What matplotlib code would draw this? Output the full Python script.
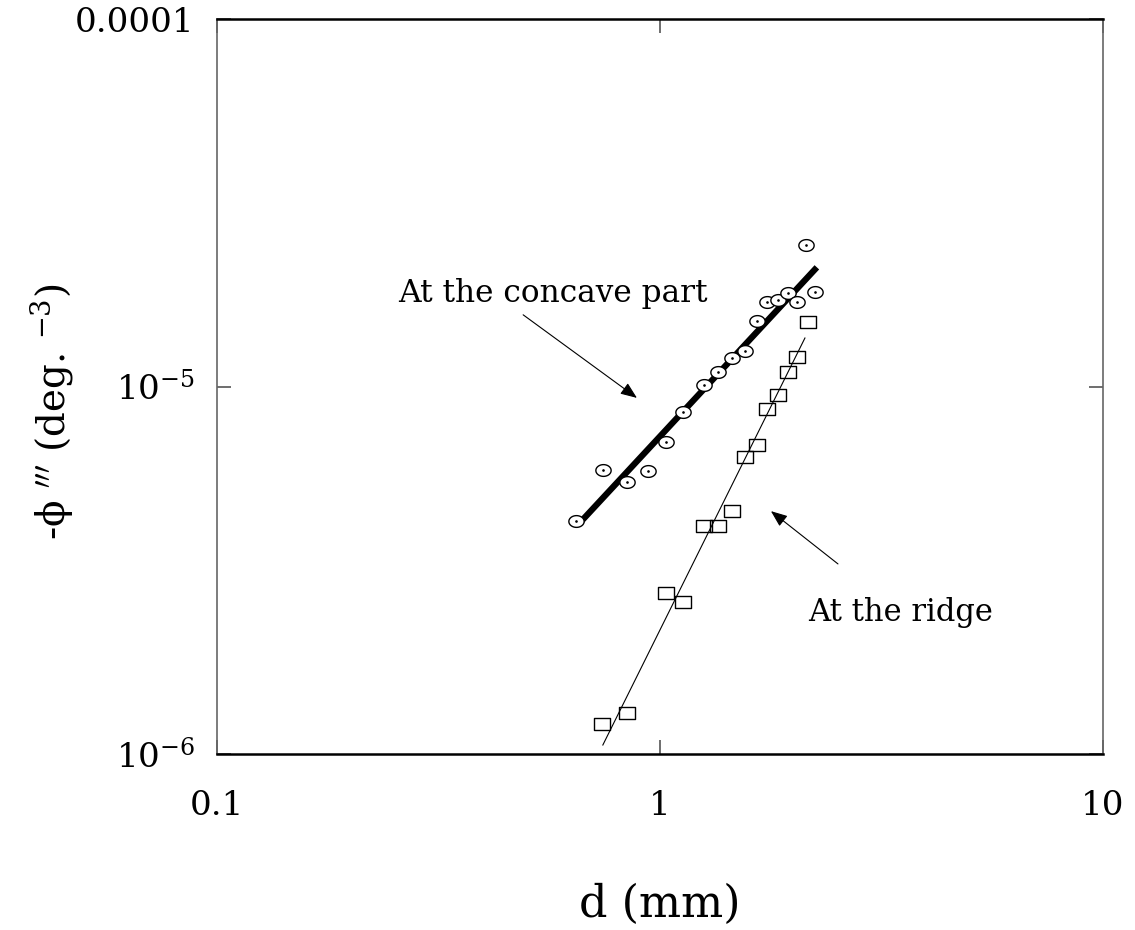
import matplotlib
matplotlib.use("Agg")
import matplotlib.pyplot as plt
import numpy as np
from matplotlib.path import Path

plt.rcParams['font.family'] = ['DejaVu Serif']
plt.rcParams['mathtext.fontset'] = 'dejavuserif'

# ---- data ----
d_concave = [0.646, 0.744, 0.842, 0.940, 1.03, 1.127, 1.256, 1.352, 1.454, 1.556,
             1.656, 1.744, 1.846, 1.945, 2.04, 2.136, 2.239]
phi_concave = [4.31e-6, 5.93e-6, 5.49e-6, 5.89e-6, 7.06e-6, 8.53e-6, 1.01e-5, 1.094e-5,
               1.196e-5, 1.25e-5, 1.51e-5, 1.70e-5, 1.72e-5, 1.80e-5, 1.70e-5, 2.43e-5, 1.81e-5]

d_ridge = [0.740, 0.842, 1.03, 1.127, 1.256, 1.352, 1.454, 1.556, 1.656, 1.744,
           1.846, 1.945, 2.04, 2.16]
phi_ridge = [1.21e-6, 1.29e-6, 2.74e-6, 2.59e-6, 4.17e-6, 4.17e-6, 4.58e-6, 6.43e-6,
             6.93e-6, 8.69e-6, 9.48e-6, 1.094e-5, 1.20e-5, 1.50e-5]

fit_concave_d = [0.656, 2.26]
fit_concave_phi = [4.23e-6, 2.11e-5]
fit_ridge_d = [0.743, 2.124]
fit_ridge_phi = [1.058e-6, 1.355e-5]

x_ticks = [0.1, 1, 10]
x_ticklabels = ['0.1', '1', '10']
y_ticks = [1e-6, 1e-5, 1e-4]
y_ticklabels = [r'10$^{-6}$', r'10$^{-5}$', '0.0001']

# ---- figure ----
fig = plt.figure(figsize=(11.35, 9.3), dpi=100)
ax = fig.add_axes([217/1135, 1-754/930, (1103-217)/1135, (754-19)/930])
ax.set_xscale('log')
ax.set_yscale('log')
ax.set_xlim(0.1, 10)
ax.set_ylim(1e-6, 1e-4)

# elliptical markers (chart is horizontally stretched)
t = np.linspace(0, 2*np.pi, 60)
ell = Path(np.column_stack([1.3*np.cos(t), np.sin(t)]), closed=True)
rect = Path([(-1.3, -1), (1.3, -1), (1.3, 1), (-1.3, 1), (-1.3, -1)], closed=True)

ax.plot(fit_concave_d, fit_concave_phi, color='black', lw=4.5, solid_capstyle='butt', zorder=2)
ax.plot(fit_ridge_d, fit_ridge_phi, color='black', lw=0.8, zorder=2)

ax.plot(d_concave, phi_concave, linestyle='none', marker=ell, markersize=11,
        markerfacecolor='white', markeredgecolor='black', markeredgewidth=1.0, zorder=3)
ax.plot(d_concave, phi_concave, linestyle='none', marker='o', markersize=0.9,
        color='black', zorder=4)
ax.plot(d_ridge, phi_ridge, linestyle='none', marker=rect, markersize=11,
        markerfacecolor='none', markeredgecolor='black', markeredgewidth=1.0, zorder=3)

ax.set_xticks(x_ticks)
ax.set_xticklabels(x_ticklabels)
ax.set_yticks(y_ticks)
ax.set_yticklabels(y_ticklabels)
ax.minorticks_off()
ax.tick_params(axis='both', which='major', direction='in', length=10, width=1.2,
               top=True, right=True, labelsize=24.5, color='#555555')
ax.tick_params(axis='x', pad=26)
ax.tick_params(axis='y', pad=16)

for s in ['top', 'bottom']:
    ax.spines[s].set_linewidth(1.8)
    ax.spines[s].set_color('black')
for s in ['left', 'right']:
    ax.spines[s].set_linewidth(1.2)
    ax.spines[s].set_color('#666666')

ax.set_xlabel('d (mm)', fontsize=32)
ax.xaxis.set_label_coords((660-217)/886, -(883-754)/735)
ax.set_ylabel(r'-ϕ $^{\prime\prime\prime}$ (deg. $^{-3}$)', fontsize=28)
ax.yaxis.set_label_coords(-(217-75)/886, (754-412)/735)

arrow_style = dict(arrowstyle='-|>,head_length=1.0,head_width=0.4', color='black', lw=0.8,
                   shrinkA=0, shrinkB=0)
ax.annotate('', xy=(0.887, 9.31e-6), xytext=(0.491, 1.567e-5), arrowprops=arrow_style)
ax.text(0.5735, 1.796e-5, 'At the concave part', fontsize=22.5, ha='center', va='center')

ax.annotate('', xy=(1.78, 4.58e-6), xytext=(2.522, 3.29e-6), arrowprops=arrow_style)
ax.text(3.50, 2.43e-6, 'At the ridge', fontsize=22, ha='center', va='center')

fig.savefig('out.png', dpi=100)
